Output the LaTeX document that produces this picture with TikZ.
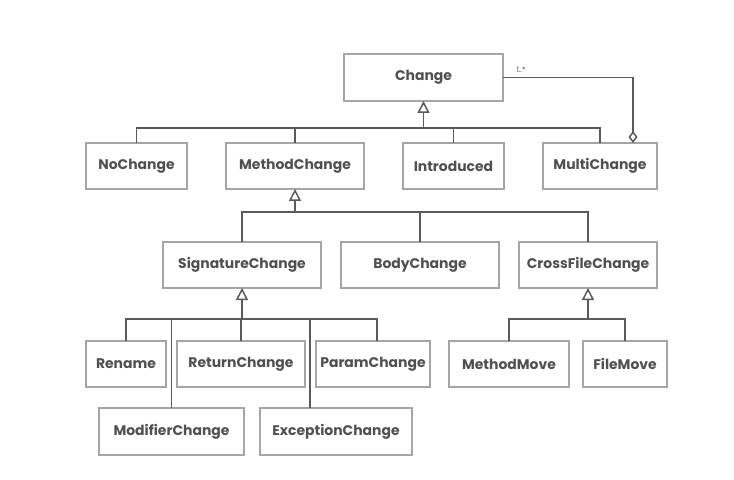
\documentclass[tikz,border=0pt]{standalone}
\usepackage{fontspec}
\setmainfont{Poppins}
\usetikzlibrary{arrows.meta, positioning}
\definecolor{boxgray}{RGB}{165, 165, 165}
\definecolor{linegray}{RGB}{90, 90, 90}
\definecolor{textgray}{RGB}{80, 80, 80}

\begin{document}
\begin{tikzpicture}[
    x=1bp, y=-1bp,
    cls/.style={rectangle, draw=boxgray, line width=1.3bp, fill=white,
                minimum height=46bp, inner sep=0pt, outer sep=0pt, align=center, text=textgray,
                font=\fontsize{14}{16}\selectfont\bfseries},
    link/.style={line width=1.8bp, linegray},
    inherit/.style={link, -{Triangle[open, length=12bp, width=12bp, line width=1.5bp]}},
    aggr/.style={link, -{Diamond[open, length=12bp, width=9bp, line width=1.5bp]}}
]
\useasboundingbox (0,0) rectangle (734,480);
% top class
\node[cls, minimum width=159bp, minimum height=47bp] (change) at (423.5,77.5) {Change};
% second row
\node[cls, minimum width=101bp] (nochange) at (136.5,166) {NoChange};
\node[cls, minimum width=138bp, right=39bp of nochange] (methodchg) {MethodChange};
\node[cls, minimum width=101bp, right=39bp of methodchg] (introduced) {Introduced};
\node[cls, minimum width=114bp, right=39bp of introduced] (multichg) {MultiChange};
% third row
\node[cls, minimum width=158bp] (sigchg) at (242,265) {SignatureChange};
\node[cls, minimum width=158bp, right=20bp of sigchg] (bodychg) {BodyChange};
\node[cls, minimum width=138bp, right=20bp of bodychg] (crossfile) {CrossFileChange};
% fourth row
\node[cls, minimum width=80bp] (rename) at (126,364) {Rename};
\node[cls, minimum width=128bp, right=11bp of rename] (returnchg) {ReturnChange};
\node[cls, minimum width=114bp, right=11bp of returnchg] (paramchg) {ParamChange};
\node[cls, minimum width=120bp, right=19bp of paramchg] (methodmove) {MethodMove};
\node[cls, minimum width=84bp, right=14bp of methodmove] (filemove) {FileMove};
% fifth row
\node[cls, minimum width=145bp, minimum height=47bp] (modifierchg) at (171.5,431.5) {ModifierChange};
\node[cls, minimum width=152bp, minimum height=47bp, right=16bp of modifierchg] (exceptionchg) {ExceptionChange};

% Change hierarchy
\coordinate (bus1) at ([yshift=-27bp]change.south);
\draw[link] (nochange.north) |- (bus1) -| (multichg.north);
\draw[link] (methodchg.north) -- (methodchg.north |- bus1);
\draw[link] (introduced.north) -- (introduced.north |- bus1);
\draw[inherit] (bus1) -- (change.south);
\draw[aggr] (change.east) -| ([xshift=33bp]multichg.north);
\node[font=\fontsize{7.5}{8}\selectfont, text=textgray, above right=1bp and 10bp of change.east] (mult) {1..*};

% MethodChange hierarchy
\coordinate (bus2) at ([yshift=-23bp]methodchg.south);
\draw[link] (sigchg.north) |- (bus2) -| (crossfile.north);
\draw[link] (bodychg.north) -- (bodychg.north |- bus2);
\draw[inherit] (bus2) -- (methodchg.south);

% SignatureChange hierarchy
\coordinate (bus3) at ([yshift=-31bp]sigchg.south);
\draw[link] (rename.north) |- (bus3) -| ([xshift=4bp]paramchg.north);
\draw[link] (returnchg.north) -- (returnchg.north |- bus3);
\draw[link] (modifierchg.north) -- (modifierchg.north |- bus3);
\draw[link] ([xshift=-26bp]exceptionchg.north) -- ([xshift=-26bp]exceptionchg.north |- bus3);
\draw[inherit] (bus3) -- (sigchg.south);

% CrossFileChange hierarchy
\coordinate (bus4) at ([yshift=-31bp]crossfile.south);
\draw[link] (methodmove.north) |- (bus4) -| (filemove.north);
\draw[inherit] (bus4) -- (crossfile.south);
\end{tikzpicture}
\end{document}
